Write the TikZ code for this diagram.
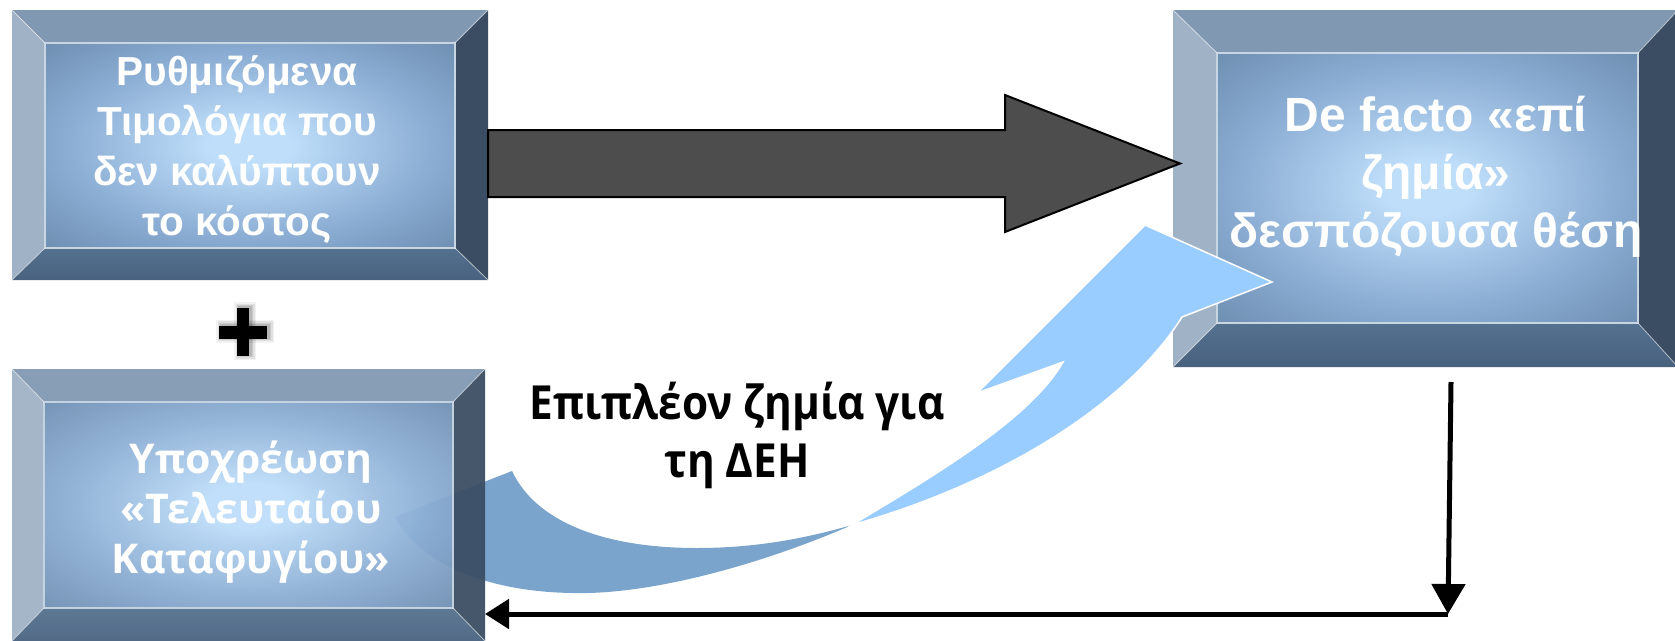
\documentclass[tikz,border=0pt]{standalone}
\usepackage{fontspec}
\setmainfont{Liberation Sans}
\newfontfamily\arialfont{Liberation Sans}
\newfontfamily\osfont{Open Sans}
\newfontfamily\oslabel{Open Sans}[FakeStretch=0.9]
\usetikzlibrary{arrows.meta,calc}

\definecolor{topc}{RGB}{128,152,178}
\definecolor{leftc}{RGB}{160,178,197}
\definecolor{rightc}{RGB}{59,77,99}
\definecolor{botcA}{RGB}{84,113,143}
\definecolor{botcB}{RGB}{72,97,126}
\definecolor{fcA}{RGB}{190,222,250}
\definecolor{fcB}{RGB}{140,174,212}
\definecolor{fcC}{RGB}{100,131,166}
\definecolor{edgec}{RGB}{200,214,228}
\definecolor{arrowgray}{RGB}{77,77,77}
\definecolor{bandlight}{RGB}{153,204,255}
\definecolor{banddark}{RGB}{122,164,204}

\pgfdeclareradialshading{facegrad}{\pgfpoint{0bp}{0bp}}{color(0bp)=(fcA); color(5bp)=(fcA); color(22bp)=(fcB); color(40bp)=(fcC); color(75bp)=(fcC)}

\tikzset{
  boxbase/.style={shape=rectangle, draw=none, inner sep=0pt, outer sep=0pt},
  boxtext/.style={text=white, align=center, inner sep=0pt},
  graybig/.style={fill=arrowgray, draw=black, line width=2pt, line join=miter},
  blackarrow/.style={draw=black, line width=5pt},
}

% #1 name, #2 x1, #3 y1, #4 x2, #5 y2, #6 left, #7 top, #8 right, #9 bottom
\newcommand\bevbox[9]{%
  \node[boxbase, minimum width={(#4)-(#2)}, minimum height={(#5)-(#3)}] (#1) at ({((#2)+(#4))/2},{((#3)+(#5))/2}) {};
  \fill[topc] (#2,#3) -- (#4,#3) -- ({#4-#8},{#3+#7}) -- ({#2+#6},{#3+#7}) -- cycle;
  \fill[leftc] (#2,#3) -- ({#2+#6},{#3+#7}) -- ({#2+#6},{#5-#9}) -- (#2,#5) -- cycle;
  \fill[rightc] (#4,#3) -- (#4,#5) -- ({#4-#8},{#5-#9}) -- ({#4-#8},{#3+#7}) -- cycle;
  \shade[top color=botcA, bottom color=botcB] (#2,#5) -- (#4,#5) -- ({#4-#8},{#5-#9}) -- ({#2+#6},{#5-#9}) -- cycle;
  \shade[shading=facegrad] ({#2+#6},{#3+#7}) rectangle ({#4-#8},{#5-#9});
  \draw[edgec, line width=1.5pt] ({#2+#6},{#3+#7}) rectangle ({#4-#8},{#5-#9});
  \draw[white, opacity=.55, line width=.8pt] (#2,#3) -- ({#2+#6},{#3+#7}) (#4,#3) -- ({#4-#8},{#3+#7}) (#4,#5) -- ({#4-#8},{#5-#9}) (#2,#5) -- ({#2+#6},{#5-#9});
}

\begin{document}
\begin{tikzpicture}[x=1pt,y=-1pt]
\useasboundingbox (0,0) rectangle (1675,640);
\fill[white] (0,0) rectangle (1675,640);

% boxes
\bevbox{b1}{12}{10}{488}{280}{33}{33}{33}{32}
\bevbox{b2}{1173}{10}{1678}{367}{44}{43}{40}{44}

% big gray arrow from b1 to b2
\coordinate (ga1) at (b1.east |- 0,163.5);
\coordinate (ga2) at ($(b2.west |- ga1)+(7,0)$);
\path[graybig] let \p1=(ga1), \p2=(ga2) in
  (\x1,\y1+33.5pt) -- (\x2-175pt,\y1+33.5pt) -- (\x2-175pt,\y1+68.5pt) -- (\x2,\y2)
  -- (\x2-175pt,\y1-68.5pt) -- (\x2-175pt,\y1-33.5pt) -- (\x1,\y1-33.5pt) -- cycle;

% dark part of the curved arrow (behind box 3)
\fill[banddark] (395,517) -- (512,471)
  .. controls (535,520) and (600,548) .. (697,548)
  .. controls (760,548) and (810,537) .. (852,525)
  .. controls (760,565) and (650,595) .. (573,593)
  .. controls (490,592) and (420,565) .. (395,517) -- cycle;

% box 3, slightly transparent
\begin{scope}[opacity=.94]
\bevbox{b3}{12}{369}{485}{641}{32}{33}{32}{33}
\end{scope}

% light part of the curved arrow, head over box 2
\path[fill=bandlight, draw=white, line width=1.5pt, line join=miter]
  (852,525) .. controls (930,478) and (1030,420) .. (1063,362)
  -- (977,393) -- (1145,225) -- (1272,282) -- (1182,317)
  .. controls (1130,400) and (1010,480) .. (852,525) -- cycle;

% texts
\node[boxtext, font=\arialfont\bfseries\fontsize{40.5}{50}\selectfont] (t1) at (237,150)
  {Ρυθμιζόμενα\\Τιμολόγια που\\δεν καλύπτουν\\το κόστος};
\node[boxtext, font=\arialfont\bfseries\fontsize{48}{58}\selectfont] (t2) at (1436,177)
  {De facto «επί\\ζημία»\\δεσπόζουσα θέση};
\node[boxtext, font=\osfont\bfseries\fontsize{41}{50}\selectfont] (t3) at (251,512)
  {Υποχρέωση\\«Τελευταίου\\Καταφυγίου»};
\node[align=center, inner sep=0pt, font=\oslabel\bfseries\fontsize{47}{58}\selectfont] (lab) at (737,435.5)
  {Επιπλέον ζημία για\\τη ΔΕΗ};

% plus sign with soft shadow
\coordinate (plus) at (243,332);
\foreach \s/\o in {5/.05, 3.5/.07, 2/.09, 1/.1}{
  \fill[black, opacity=\o] ($(plus)+(-24-\s+2,-6.5-\s-1)$) rectangle ($(plus)+(24+\s+2,6.5+\s-1)$);
  \fill[black, opacity=\o] ($(plus)+(-6-\s+2,-24-\s-1)$) rectangle ($(plus)+(6+\s+2,24+\s-1)$);
}
\fill[black] ($(plus)+(-24,-6.5)$) rectangle ($(plus)+(24,6.5)$);
\fill[black] ($(plus)+(-6,-24)$) rectangle ($(plus)+(6,24)$);

% black feedback arrows
\coordinate (v1) at (1451,382);
\coordinate (corner) at (1448,614);
\draw[blackarrow, -{Triangle[length=30pt,width=33pt]}] (v1) -- (corner);
\draw[blackarrow, -{Triangle[length=24pt,width=29pt]}] (corner) -- (b3.east |- corner);
\end{tikzpicture}
\end{document}
